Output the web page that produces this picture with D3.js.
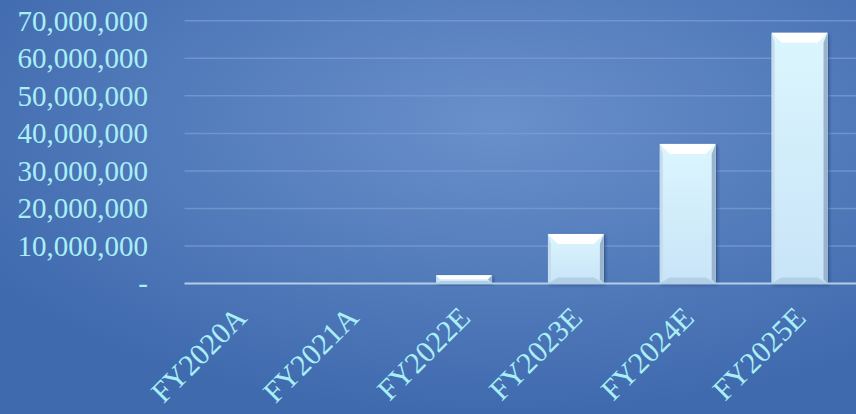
<!doctype html>
<html>
<head>
<meta charset="utf-8">
<script src="https://cdnjs.cloudflare.com/ajax/libs/d3/7.8.5/d3.min.js"></script>
<style>
  html, body { margin: 0; padding: 0; overflow: hidden; }
  svg { display: block; }
</style>
</head>
<body>
<div id="chart"></div>
<script>
var w = 856;
var h = 414;

// data
var categories = ["FY2020A", "FY2021A", "FY2022E", "FY2023E", "FY2024E", "FY2025E"];
var values = [0, 0, 2200000, 13200000, 37200000, 66800000];
var yTicks = [0, 10000000, 20000000, 30000000, 40000000, 50000000, 60000000, 70000000];

var textColor = "#a9eff6";
var fontFam = "'Liberation Serif', 'DejaVu Serif', serif";

var x = d3.scaleBand()
    .domain(categories)
    .range([184.5, 855.5])
    .paddingInner(0.5)
    .paddingOuter(0.25);

var y = d3.scaleLinear()
    .domain([0, 70000000])
    .range([283.5, 20.8]);

var svg = d3.select("#chart")
    .append("svg")
    .attr("width", w)
    .attr("height", h);

var defs = svg.append("defs");

// background gradient, lighter toward the middle
var bg = defs.append("radialGradient")
    .attr("id", "bg")
    .attr("cx", "58%").attr("cy", "30%")
    .attr("r", "70%");
bg.append("stop").attr("offset", "0%").attr("stop-color", "#6990ca");
bg.append("stop").attr("offset", "100%").attr("stop-color", "#3f6aae");

var barGrad = defs.append("linearGradient")
    .attr("id", "barFill")
    .attr("x1", 0).attr("y1", 0).attr("x2", 0).attr("y2", 1);
barGrad.append("stop").attr("offset", "0%").attr("stop-color", "#dbf6fd");
barGrad.append("stop").attr("offset", "100%").attr("stop-color", "#c8e4f8");

var shadow = defs.append("filter")
    .attr("id", "shadow")
    .attr("x", "-20%").attr("y", "-20%").attr("width", "140%").attr("height", "140%");
shadow.append("feDropShadow")
    .attr("dx", 1.5).attr("dy", 1.5).attr("stdDeviation", 1.5)
    .attr("flood-color", "#1c3560").attr("flood-opacity", 0.6);

svg.append("rect")
    .attr("width", w)
    .attr("height", h)
    .attr("fill", "url(#bg)");

// gridlines
svg.append("g")
    .selectAll("line")
    .data(yTicks.slice(1))
    .enter()
    .append("line")
    .attr("x1", 184.5)
    .attr("x2", w)
    .attr("y1", function (d) { return y(d); })
    .attr("y2", function (d) { return y(d); })
    .attr("stroke", "#7a9fd4")
    .attr("stroke-opacity", 0.7)
    .attr("stroke-width", 1.5);

// y axis labels
var yAxis = d3.axisLeft(y)
    .tickValues(yTicks)
    .tickSize(0)
    .tickPadding(0)
    .tickFormat(function (d) { return d === 0 ? "-" : d3.format(",")(d); });

var yg = svg.append("g")
    .attr("transform", "translate(148,0)")
    .call(yAxis);
yg.select(".domain").remove();
yg.selectAll("text")
    .attr("fill", textColor)
    .style("font-family", fontFam)
    .style("font-size", "29px")
    .attr("dy", "0.32em");

// bars
var bars = svg.append("g")
    .selectAll("g")
    .data(values.map(function (v, i) { return { cat: categories[i], v: v }; }))
    .enter()
    .filter(function (d) { return d.v > 0; })
    .append("g");

bars.append("rect")
    .attr("x", function (d) { return x(d.cat); })
    .attr("y", function (d) { return y(d.v); })
    .attr("width", x.bandwidth())
    .attr("height", function (d) { return y(0) - y(d.v); })
    .attr("fill", "url(#barFill)")
    .attr("filter", "url(#shadow)");

// bevel edges
function bevel(d) {
    var x0 = x(d.cat), x1 = x0 + x.bandwidth();
    var y0 = y(d.v), y1 = y(0);
    var b = Math.min(10, (y1 - y0) / 2);
    return { x0: x0, x1: x1, y0: y0, y1: y1, b: b };
}

bars.append("path")
    .attr("d", function (d) {
        var o = bevel(d);
        return "M" + o.x0 + "," + o.y0 + "L" + o.x1 + "," + o.y0 + "L" + (o.x1 - o.b) + "," + (o.y0 + o.b) +
            "L" + (o.x0 + o.b) + "," + (o.y0 + o.b) + "Z";
    })
    .attr("fill", "#ffffff");

bars.append("path")
    .attr("d", function (d) {
        var o = bevel(d);
        return "M" + o.x1 + "," + o.y0 + "L" + o.x1 + "," + o.y1 + "L" + (o.x1 - 4) + "," + (o.y1 - 4) +
            "L" + (o.x1 - 4) + "," + (o.y0 + o.b) + "Z";
    })
    .attr("fill", "#9ab4cd");

bars.append("path")
    .attr("d", function (d) {
        var o = bevel(d);
        return "M" + o.x0 + "," + o.y1 + "L" + o.x1 + "," + o.y1 + "L" + (o.x1 - o.b) + "," + (o.y1 - o.b * 0.6) +
            "L" + (o.x0 + o.b) + "," + (o.y1 - o.b * 0.6) + "Z";
    })
    .attr("fill", "#b3cfe6");

bars.append("path")
    .attr("d", function (d) {
        var o = bevel(d);
        return "M" + o.x0 + "," + o.y0 + "L" + o.x0 + "," + o.y1 + "L" + (o.x0 + 3) + "," + (o.y1 - 3) +
            "L" + (o.x0 + 3) + "," + (o.y0 + o.b) + "Z";
    })
    .attr("fill", "#c3dcee");

// x axis line
svg.append("line")
    .attr("x1", 184.5)
    .attr("x2", w)
    .attr("y1", y(0))
    .attr("y2", y(0))
    .attr("stroke", "#b2cde6")
    .attr("stroke-width", 2);

// x labels
svg.append("g")
    .selectAll("text")
    .data(categories)
    .enter()
    .append("text")
    .attr("transform", function (d) {
        return "translate(" + (x(d) + x.bandwidth() / 2 + 8) + "," + (y(0) + 36) + ")rotate(-45)";
    })
    .attr("text-anchor", "end")
    .attr("fill", textColor)
    .style("font-family", fontFam)
    .style("font-size", "30px")
    .text(function (d) { return d; });
</script>
</body>
</html>
